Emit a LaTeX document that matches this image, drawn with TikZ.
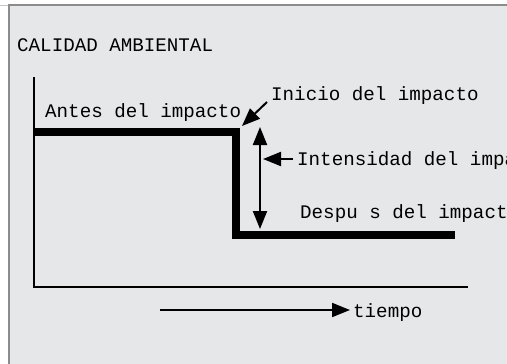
\documentclass[tikz,border=0pt]{standalone}
\usepackage{fontspec}
\setmonofont{Liberation Mono}
\usetikzlibrary{arrows.meta, positioning}

\definecolor{fondo}{RGB}{230,231,233}
\definecolor{marco}{RGB}{140,140,140}

\begin{document}
\begin{tikzpicture}[
    x=1pt, y=-1pt,
    font=\ttfamily\fontsize{19.2}{21}\selectfont,
    etiqueta/.style={inner sep=0pt, anchor=base west},
    flecha/.style={line width=2pt, -{Triangle[length=18pt, width=14pt]}},
    eje/.style={line width=2pt},
    escalon/.style={line width=8pt, line join=miter}
]
    \useasboundingbox (0,0) rectangle (507,364);
    \clip (0,0) rectangle (507,364);

    % Fondo y marco
    \fill[white] (0,0) rectangle (507,364);
    \fill[fondo] (9,5) rectangle (507,364);
    \draw[marco!50, line width=1pt] (0,5) -- (9,5);
    \draw[marco, line width=2pt] (9,364) -- (9,5) -- (507,5);

    % Coordenadas
    \coordinate (ejetop) at (34,77);
    \coordinate (origen) at (34,287);
    \coordinate (ejefin) at (468,287);
    \coordinate (antes) at (34,132);
    \coordinate (caida) at (236,132);
    \coordinate (fondoesc) at (236,234.5);
    \coordinate (despues) at (455,234.5);
    \coordinate (intsup) at (260,127);
    \coordinate (intinf) at (260,229);
    \coordinate (intpunta) at (263,159);
    \coordinate (iniciopunta) at (242,126);
    \coordinate (tiempoini) at (160,310);
    \coordinate (tiempofin) at (350,310);

    % Nodos
    \node[etiqueta] (calidad) at (17,52) {CALIDAD AMBIENTAL};
    \node[etiqueta] (antesimp) at (45,117) {Antes del impacto};
    \node[etiqueta] (inicio) at (271,100) {Inicio del impacto};
    \node[etiqueta] (intensidad) at (297,165) {Intensidad del impa};
    \node[etiqueta] (despuesimp) at (300,218) {Despu s del impact};
    \node[etiqueta] (tiempo) at (353,317) {tiempo};

    % Ejes y escalon
    \draw[eje] (ejetop) -- (origen) -- (ejefin);
    \draw[escalon] (antes) -- (caida) -- (fondoesc) -- (despues);

    % Flechas
    \draw[flecha] (inicio.base west) ++(-4,2) coordinate (iniciocola) -- (iniciopunta);
    \draw[flecha, {Triangle[length=18pt, width=14pt]}-{Triangle[length=18pt, width=14pt]}] (intsup) -- (intinf);
    \draw[flecha] (intensidad.west |- intpunta) ++(-4,0) coordinate (intcola) -- (intpunta);
    \draw[flecha] (tiempoini) -- (tiempofin);
\end{tikzpicture}
\end{document}
